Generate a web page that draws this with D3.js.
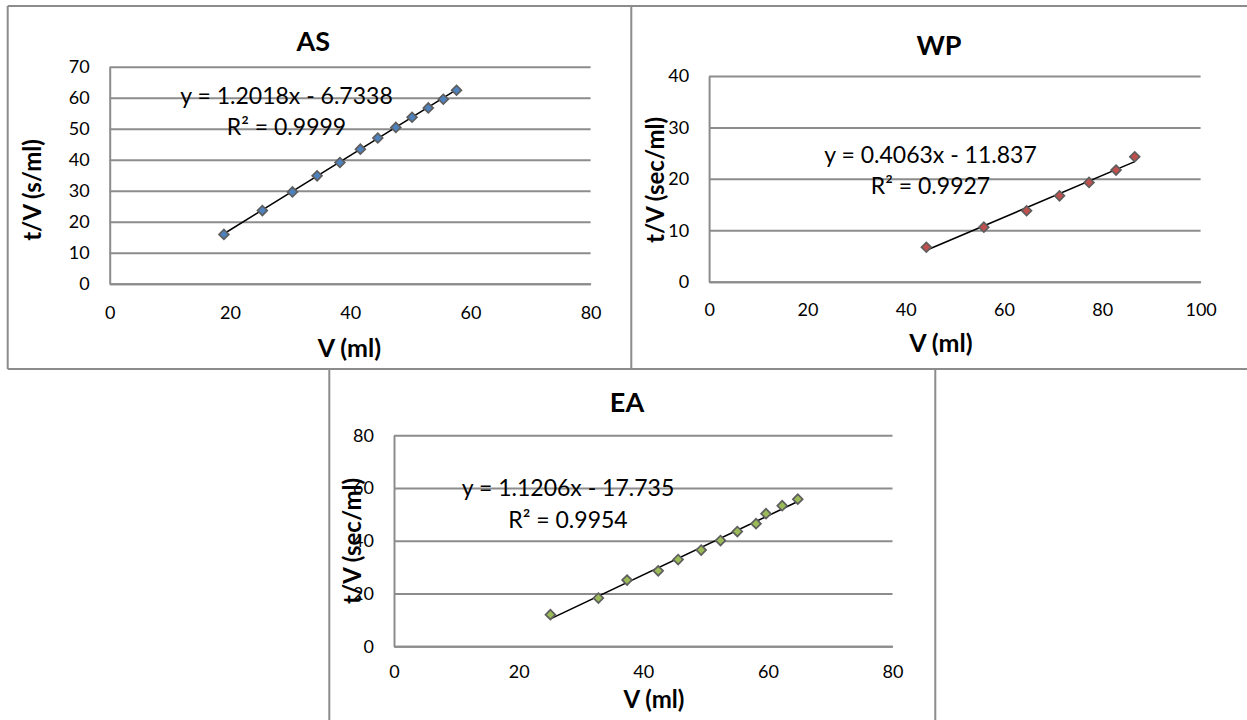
<!DOCTYPE html>
<html>
<head>
<meta charset="utf-8">
<script src="https://cdn.jsdelivr.net/npm/d3@7"></script>
<style>
  body { margin: 0; background: #fff; }
  svg { display: block; font-family: Lato, "Open Sans", sans-serif; }
</style>
</head>
<body>
<script>
// values (V in ml, t/V in s/ml)

let asV = [19.0, 25.4, 30.4, 34.5, 38.3, 41.7, 44.6, 47.6, 50.3, 53.0, 55.5, 57.7];
let asTV = [15.9, 23.6, 29.6, 34.8, 39.1, 43.4, 47.0, 50.4, 53.7, 56.7, 59.5, 62.4];

let wpV = [44.2, 55.9, 64.6, 71.3, 77.3, 82.8, 86.6];
let wpTV = [6.7, 10.6, 13.8, 16.7, 19.3, 21.7, 24.3];

let eaV = [25.1, 32.8, 37.4, 42.4, 45.6, 49.3, 52.4, 55.1, 58.1, 59.7, 62.3, 64.8];
let eaTV = [12.0, 18.3, 25.1, 28.6, 32.9, 36.5, 40.1, 43.5, 46.5, 50.3, 53.3, 55.8];

// linear trendlines as printed on the charts
let titles = ["AS", "WP", "EA"];
let slopes = [1.2018, 0.4063, 1.1206];
let intercepts = [-6.7338, -11.837, -17.735];
let r2 = ["0.9999", "0.9927", "0.9954"];
let yTitles = ["t/V (s/ml)", "t/V (sec/ml)", "t/V (sec/ml)"];

let xTicks = [d3.range(0, 81, 20), d3.range(0, 101, 20), d3.range(0, 81, 20)];
let yTicks = [d3.range(0, 71, 10), d3.range(0, 41, 10), d3.range(0, 81, 20)];

let fills = ["#4f81bd", "#c0504d", "#9bbb59"];

let svgWidth = 1247;
let svgHeight = 720;

let svg = d3.select("body")
    .append("svg")
    .attr("width", svgWidth)
    .attr("height", svgHeight)

// panel frames (the charts were pasted in a table)
let frameColor = "#8c8c8c";
let frames = [
    [7.7, 6, 1247, 6],
    [7.7, 6, 7.7, 369],
    [7.7, 369, 1247, 369],
    [631.3, 6, 631.3, 369],
    [329.3, 369, 329.3, 720],
    [935.3, 369, 935.3, 720]
]
svg.selectAll(".frame")
    .data(frames)
    .enter()
    .append("line")
    .attr("class", "frame")
    .attr("x1", function (d) { return d[0] })
    .attr("y1", function (d) { return d[1] })
    .attr("x2", function (d) { return d[2] })
    .attr("y2", function (d) { return d[3] })
    .attr("stroke", frameColor)
    .attr("stroke-width", 2)

// where each plot sits on the page
let layouts = [
    { left: 109.7, right: 590.6, top: 66.7, bottom: 283.7, titleX: 313.4, titleY: 41.7,
      xTitleX: 349.5, xTitleY: 347.5, yTitleX: 32, yTitleY: 190, eqX: 286.5, eqY: 95.5, xPad: 23, xFont: 25 },
    { left: 709.1, right: 1200.6, top: 76, bottom: 281.7, titleX: 939, titleY: 45,
      xTitleX: 941, xTitleY: 342.5, yTitleX: 655.5, yTitleY: 180, eqX: 930.5, eqY: 154.7, xPad: 22, xFont: 25 },
    { left: 394, right: 892.5, top: 435.3, bottom: 646.3, titleX: 627, titleY: 402.7,
      xTitleX: 654, xTitleY: 699.5, yTitleX: 352.5, yTitleY: 541, eqX: 568, eqY: 488, xPad: 19, xFont: 24 }
]

let series = [
    { v: asV, tv: asTV },
    { v: wpV, tv: wpTV },
    { v: eaV, tv: eaTV }
]

series.forEach(function (s, i) {
    let L = layouts[i];
    let xt = xTicks[i];
    let yt = yTicks[i];

    let xScale = d3.scaleLinear()
        .domain([0, xt[xt.length - 1]])
        .range([L.left, L.right])

    let yScale = d3.scaleLinear()
        .domain([0, yt[yt.length - 1]])
        .range([L.bottom, L.top])

    let g = svg.append("g").attr("class", "chart-" + titles[i])

    // horizontal gridlines + y labels
    let yAxis = g.append("g")
        .attr("transform", "translate(" + L.left + ",0)")
        .call(d3.axisLeft(yScale)
            .tickValues(yt)
            .tickSizeInner(-(L.right - L.left))
            .tickSizeOuter(0)
            .tickPadding(20)
            .tickFormat(d3.format("d")))
    yAxis.select(".domain").attr("stroke", frameColor).attr("stroke-width", 2)
    yAxis.selectAll(".tick line").attr("stroke", frameColor).attr("stroke-width", 2)
    yAxis.selectAll(".tick text").attr("font-size", 18).attr("fill", "#000")
        .attr("font-family", "Lato")

    let xAxis = g.append("g")
        .attr("transform", "translate(0," + L.bottom + ")")
        .call(d3.axisBottom(xScale)
            .tickValues(xt)
            .tickSize(0)
            .tickPadding(L.xPad)
            .tickFormat(d3.format("d")))
    xAxis.select(".domain").attr("stroke", frameColor).attr("stroke-width", 2)
    xAxis.selectAll(".tick text").attr("font-size", 18).attr("fill", "#000")
        .attr("font-family", "Lato")

    // trendline over the measured range
    let vExt = d3.extent(s.v);
    g.append("line")
        .attr("x1", xScale(vExt[0]))
        .attr("y1", yScale(slopes[i] * vExt[0] + intercepts[i]))
        .attr("x2", xScale(vExt[1]))
        .attr("y2", yScale(slopes[i] * vExt[1] + intercepts[i]))
        .attr("stroke", "#000")
        .attr("stroke-width", 1.6)

    // diamond markers
    let marker = d3.symbol().type(d3.symbolSquare).size(48);
    g.selectAll(".pt")
        .data(s.v)
        .enter()
        .append("path")
        .attr("class", "pt")
        .attr("d", marker)
        .attr("transform", function (d, j) {
            return "translate(" + xScale(d) + "," + yScale(s.tv[j]) + ") rotate(45)"
        })
        .attr("fill", fills[i])
        .attr("stroke", "#5e5e5e")
        .attr("stroke-width", 1.7)

    // equation label
    let sign = intercepts[i] < 0 ? " - " : " + ";
    g.append("text")
        .attr("x", L.eqX)
        .attr("y", L.eqY)
        .attr("dy", "0.36em")
        .attr("text-anchor", "middle")
        .attr("font-size", 23)
        .text("y = " + slopes[i] + "x" + sign + Math.abs(intercepts[i]))
    g.append("text")
        .attr("x", L.eqX)
        .attr("y", L.eqY + 31.5)
        .attr("dy", "0.36em")
        .attr("text-anchor", "middle")
        .attr("font-size", 23)
        .text("R\u00b2 = " + r2[i])

    g.append("text")
        .attr("x", L.titleX)
        .attr("y", L.titleY)
        .attr("dy", "0.36em")
        .attr("text-anchor", "middle")
        .attr("font-size", 27)
        .attr("font-weight", "bold")
        .text(titles[i])

    g.append("text")
        .attr("x", L.xTitleX)
        .attr("y", L.xTitleY)
        .attr("dy", "0.36em")
        .attr("text-anchor", "middle")
        .attr("font-size", L.xFont)
        .attr("font-weight", "bold")
        .text("V (ml)")

    g.append("text")
        .attr("transform", "translate(" + L.yTitleX + "," + L.yTitleY + ") rotate(-90)")
        .attr("dy", "0.36em")
        .attr("text-anchor", "middle")
        .attr("font-size", 24)
        .attr("font-weight", "bold")
        .text(yTitles[i])
})
</script>
</body>
</html>
